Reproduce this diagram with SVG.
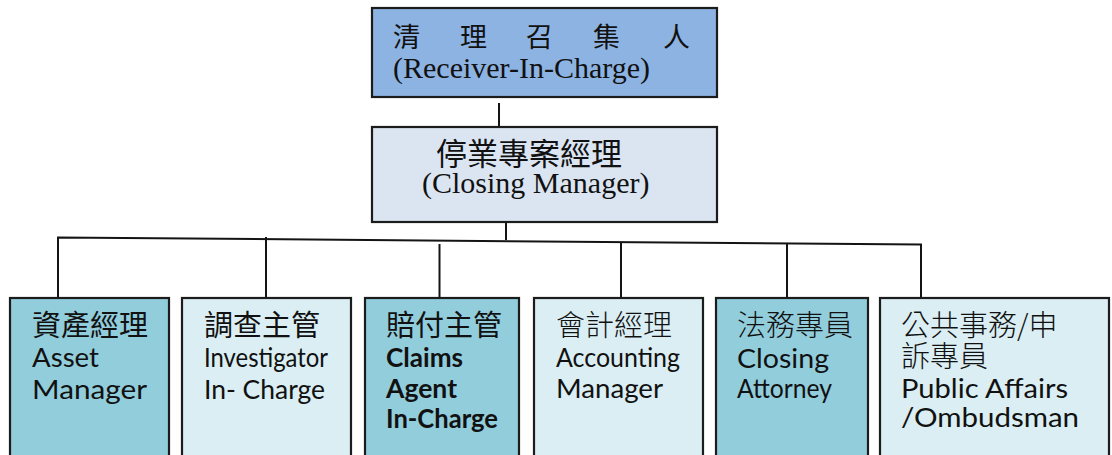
<svg xmlns="http://www.w3.org/2000/svg" width="1112" height="455" viewBox="0 0 1112 455">
  <style>
    .box { stroke: #1c1c1c; stroke-width: 2.2; }
    .blue { fill: #8db3e2; }
    .pale { fill: #dbe5f1; }
    .teal { fill: #92cddc; }
    .aqua { fill: #daeef3; }
    .serif { font-family: "Liberation Serif", "Noto Sans CJK TC", serif; fill: #111; }
    .label { font-family: "Lato", "Open Sans", "Noto Sans CJK TC", sans-serif; fill: #111; }
    .zh { font-family: "Noto Sans CJK TC", sans-serif; font-size: 29px; }
    .thin { font-weight: 300; }
    .en { font-size: 27.5px; }
    .bold { font-weight: 700; }
    .link { fill: none; stroke: #141414; stroke-width: 2; }
  </style>

  <!-- connectors -->
  <g id="connectors">
    <line class="link" x1="499" y1="103" x2="499" y2="127"/>
    <line class="link" x1="506" y1="222" x2="506" y2="240"/>
    <polyline class="link" points="58,298 58,237.5 921,244.5 921,298"/>
    <line class="link" x1="266" y1="237" x2="266" y2="298"/>
    <line class="link" x1="439.5" y1="244" x2="439.5" y2="298"/>
    <line class="link" x1="621" y1="242" x2="621" y2="298"/>
    <line class="link" x1="787" y1="243" x2="787" y2="298"/>
  </g>

  <!-- top: receiver -->
  <g id="receiver">
    <rect class="box blue" x="372" y="8" width="345" height="89"/>
    <text class="serif"><tspan font-size="27" y="47" x="393 426 460 493 526 560 593 627 663">清 理 召 集 人</tspan><tspan font-size="30" x="393" y="78">(Receiver-In-Charge)</tspan></text>
  </g>

  <!-- closing manager -->
  <g id="closing-manager">
    <rect class="box pale" x="372" y="127" width="345" height="95"/>
    <text class="serif"><tspan font-size="31" x="436" y="165">停業專案經理</tspan><tspan font-size="30" x="422" y="193">(Closing Manager)</tspan></text>
  </g>

  <!-- bottom row -->
  <g id="asset-manager">
    <rect class="box teal" x="10" y="298" width="159" height="175"/>
    <text class="label">
      <tspan class="zh" x="32" y="336">資產經理</tspan>
      <tspan class="en" x="32" y="367" textLength="67" lengthAdjust="spacingAndGlyphs">Asset</tspan>
      <tspan class="en" x="32" y="399" textLength="115" lengthAdjust="spacingAndGlyphs">Manager</tspan>
    </text>
  </g>

  <g id="investigator">
    <rect class="box aqua" x="182" y="298" width="169" height="175"/>
    <text class="label">
      <tspan class="zh" x="204" y="336">調查主管</tspan>
      <tspan class="en" x="204" y="367" textLength="124" lengthAdjust="spacingAndGlyphs">Investigator</tspan>
      <tspan class="en" x="204" y="399" textLength="121" lengthAdjust="spacingAndGlyphs">In- Charge</tspan>
    </text>
  </g>

  <g id="claims-agent">
    <rect class="box teal" x="365" y="298" width="154" height="175"/>
    <text class="label">
      <tspan class="zh" x="386" y="336">賠付主管</tspan>
      <tspan class="en bold" x="386" y="367" textLength="77" lengthAdjust="spacingAndGlyphs">Claims</tspan>
      <tspan class="en bold" x="386" y="398" textLength="71" lengthAdjust="spacingAndGlyphs">Agent</tspan>
      <tspan class="en bold" x="386" y="428" textLength="112" lengthAdjust="spacingAndGlyphs">In-Charge</tspan>
    </text>
  </g>

  <g id="accounting-manager">
    <rect class="box aqua" x="534" y="298" width="169" height="175"/>
    <text class="label">
      <tspan class="zh thin" x="556" y="336">會計經理</tspan>
      <tspan class="en" x="556" y="367" textLength="124" lengthAdjust="spacingAndGlyphs">Accounting</tspan>
      <tspan class="en" x="556" y="398" textLength="107" lengthAdjust="spacingAndGlyphs">Manager</tspan>
    </text>
  </g>

  <g id="closing-attorney">
    <rect class="box teal" x="716" y="298" width="152" height="175"/>
    <text class="label">
      <tspan class="zh thin" x="737" y="336">法務專員</tspan>
      <tspan class="en" x="737" y="368" textLength="92" lengthAdjust="spacingAndGlyphs">Closing</tspan>
      <tspan class="en" x="737" y="398" textLength="95" lengthAdjust="spacingAndGlyphs">Attorney</tspan>
    </text>
  </g>

  <g id="public-affairs">
    <rect class="box aqua" x="880" y="298" width="229" height="175"/>
    <text class="label">
      <tspan class="zh thin" x="901" y="336">公共事務/申</tspan>
      <tspan class="zh thin" x="901" y="367">訴專員</tspan>
      <tspan class="en" x="901" y="398" textLength="167" lengthAdjust="spacingAndGlyphs">Public Affairs</tspan>
      <tspan class="en" x="901" y="427" textLength="178" lengthAdjust="spacingAndGlyphs">/Ombudsman</tspan>
    </text>
  </g>
</svg>
